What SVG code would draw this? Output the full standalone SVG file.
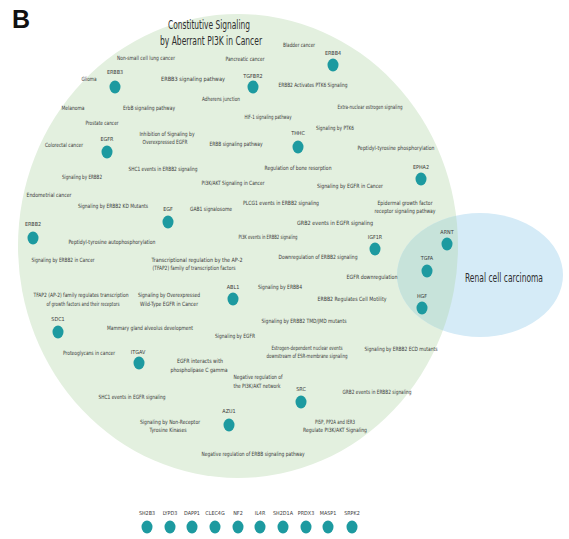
<svg xmlns="http://www.w3.org/2000/svg" width="569" height="539" viewBox="0 0 569 539">
<style>
.t{font-family:"Liberation Sans Narrow","DejaVu Sans Condensed","Liberation Sans",sans-serif;font-size:5.8px;fill:#3a3a3a;text-anchor:middle}
.g{font-family:"Liberation Sans Narrow","DejaVu Sans Condensed","Liberation Sans",sans-serif;font-size:5.4px;fill:#3a3a3a;text-anchor:middle}
.big{font-family:"Liberation Sans Narrow","DejaVu Sans Condensed","Liberation Sans",sans-serif;font-size:12px;fill:#2e2e2e;text-anchor:middle}
.dot{fill:#1d9aa0}
</style>
<defs>
<clipPath id="clipGreen"><ellipse cx="238" cy="246" rx="220" ry="232"/></clipPath>
</defs>
<rect width="569" height="539" fill="#ffffff"/>
<text x="12" y="28" font-family="Liberation Sans,Arial,sans-serif" font-weight="bold" font-size="25" fill="#111">B</text>
<g id="sets">
<ellipse id="set-pi3k" cx="238" cy="246" rx="220" ry="232" fill="#e3f0df"/>
<ellipse id="set-rcc" cx="480" cy="275" rx="83" ry="62" fill="#d5ebf7"/>
<ellipse cx="480" cy="275" rx="83" ry="62" fill="#c7e3da" clip-path="url(#clipGreen)"/>
</g>
<g id="titles">
<text class="big" x="209" y="29" textLength="82" lengthAdjust="spacingAndGlyphs">Constitutive Signaling</text>
<text class="big" x="211" y="45" textLength="102" lengthAdjust="spacingAndGlyphs">by Aberrant PI3K in Cancer</text>
<text class="big" x="504" y="282" textLength="78" lengthAdjust="spacingAndGlyphs">Renal cell carcinoma</text>
</g>
<g id="connectors"/>
<g id="terms">
<text class="t" x="146" y="60" textLength="58" lengthAdjust="spacingAndGlyphs">Non-small cell lung cancer</text>
<text class="t" x="89" y="81" textLength="15" lengthAdjust="spacingAndGlyphs">Glioma</text>
<text class="t" x="193" y="81" textLength="64" lengthAdjust="spacingAndGlyphs">ERBB3 signaling pathway</text>
<text class="t" x="73" y="110" textLength="23" lengthAdjust="spacingAndGlyphs">Melanoma</text>
<text class="t" x="149" y="110" textLength="52" lengthAdjust="spacingAndGlyphs">ErbB signaling pathway</text>
<text class="t" x="102" y="125" textLength="33" lengthAdjust="spacingAndGlyphs">Prostate cancer</text>
<text class="t" x="299" y="47" textLength="32" lengthAdjust="spacingAndGlyphs">Bladder cancer</text>
<text class="t" x="245" y="61" textLength="39" lengthAdjust="spacingAndGlyphs">Pancreatic cancer</text>
<text class="t" x="313" y="87" textLength="69" lengthAdjust="spacingAndGlyphs">ERBB2 Activates PTK6 Signaling</text>
<text class="t" x="221" y="101" textLength="38" lengthAdjust="spacingAndGlyphs">Adherens junction</text>
<text class="t" x="370" y="109" textLength="65" lengthAdjust="spacingAndGlyphs">Extra-nuclear estrogen signaling</text>
<text class="t" x="268" y="119" textLength="47" lengthAdjust="spacingAndGlyphs">HIF-1 signaling pathway</text>
<text class="t" x="335" y="130" textLength="38" lengthAdjust="spacingAndGlyphs">Signaling by PTK6</text>
<text class="t" x="64" y="147" textLength="38" lengthAdjust="spacingAndGlyphs">Colorectal cancer</text>
<text class="t" x="167" y="136" textLength="55" lengthAdjust="spacingAndGlyphs">Inhibition of Signaling by</text>
<text class="t" x="165" y="144" textLength="45" lengthAdjust="spacingAndGlyphs">Overexpressed EGFR</text>
<text class="t" x="163" y="171" textLength="69" lengthAdjust="spacingAndGlyphs">SHC1 events in ERBB2 signaling</text>
<text class="t" x="82" y="179" textLength="40" lengthAdjust="spacingAndGlyphs">Signaling by ERBB2</text>
<text class="t" x="49" y="197" textLength="45" lengthAdjust="spacingAndGlyphs">Endometrial cancer</text>
<text class="t" x="113" y="208" textLength="70" lengthAdjust="spacingAndGlyphs">Signaling by ERBB2 KD Mutants</text>
<text class="t" x="211" y="211" textLength="42" lengthAdjust="spacingAndGlyphs">GAB1 signalosome</text>
<text class="t" x="112" y="244" textLength="87" lengthAdjust="spacingAndGlyphs">Peptidyl-tyrosine autophosphorylation</text>
<text class="t" x="236" y="146" textLength="53" lengthAdjust="spacingAndGlyphs">ERBB signaling pathway</text>
<text class="t" x="396" y="150" textLength="77" lengthAdjust="spacingAndGlyphs">Peptidyl-tyrosine phosphorylation</text>
<text class="t" x="298" y="170" textLength="67" lengthAdjust="spacingAndGlyphs">Regulation of bone resorption</text>
<text class="t" x="233" y="185" textLength="63" lengthAdjust="spacingAndGlyphs">PI3K/AKT Signaling in Cancer</text>
<text class="t" x="350" y="188" textLength="66" lengthAdjust="spacingAndGlyphs">Signaling by EGFR in Cancer</text>
<text class="t" x="281" y="205" textLength="76" lengthAdjust="spacingAndGlyphs">PLCG1 events in ERBB2 signaling</text>
<text class="t" x="335" y="225" textLength="76" lengthAdjust="spacingAndGlyphs">GRB2 events in EGFR signaling</text>
<text class="t" x="268" y="239" textLength="59" lengthAdjust="spacingAndGlyphs">PI3K events in ERBB2 signaling</text>
<text class="t" x="405" y="205" textLength="55" lengthAdjust="spacingAndGlyphs">Epidermal growth factor</text>
<text class="t" x="405" y="213" textLength="61" lengthAdjust="spacingAndGlyphs">receptor signaling pathway</text>
<text class="t" x="63" y="262" textLength="63" lengthAdjust="spacingAndGlyphs">Signaling by ERBB2 in Cancer</text>
<text class="t" x="197" y="262" textLength="91" lengthAdjust="spacingAndGlyphs">Transcriptional regulation by the AP-2</text>
<text class="t" x="194" y="270" textLength="83" lengthAdjust="spacingAndGlyphs">(TFAP2) family of transcription factors</text>
<text class="t" x="81" y="297" textLength="95" lengthAdjust="spacingAndGlyphs">TFAP2 (AP-2) family regulates transcription</text>
<text class="t" x="83" y="306" textLength="73" lengthAdjust="spacingAndGlyphs">of growth factors and their receptors</text>
<text class="t" x="169" y="297" textLength="62" lengthAdjust="spacingAndGlyphs">Signaling by Overexpressed</text>
<text class="t" x="169" y="306" textLength="58" lengthAdjust="spacingAndGlyphs">Wild-Type EGFR in Cancer</text>
<text class="t" x="150" y="330" textLength="86" lengthAdjust="spacingAndGlyphs">Mammary gland alveolus development</text>
<text class="t" x="89" y="355" textLength="52" lengthAdjust="spacingAndGlyphs">Proteoglycans in cancer</text>
<text class="t" x="318" y="259" textLength="79" lengthAdjust="spacingAndGlyphs">Downregulation of ERBB2 signaling</text>
<text class="t" x="372" y="279" textLength="51" lengthAdjust="spacingAndGlyphs">EGFR downregulation</text>
<text class="t" x="280" y="289" textLength="44" lengthAdjust="spacingAndGlyphs">Signaling by ERBB4</text>
<text class="t" x="352" y="301" textLength="69" lengthAdjust="spacingAndGlyphs">ERBB2 Regulates Cell Motility</text>
<text class="t" x="304" y="323" textLength="85" lengthAdjust="spacingAndGlyphs">Signaling by ERBB2 TMD/JMD mutants</text>
<text class="t" x="235" y="338" textLength="40" lengthAdjust="spacingAndGlyphs">Signaling by EGFR</text>
<text class="t" x="307" y="350" textLength="71" lengthAdjust="spacingAndGlyphs">Estrogen-dependent nuclear events</text>
<text class="t" x="307" y="358" textLength="81" lengthAdjust="spacingAndGlyphs">downstream of ESR-membrane signaling</text>
<text class="t" x="401" y="351" textLength="73" lengthAdjust="spacingAndGlyphs">Signaling by ERBB2 ECD mutants</text>
<text class="t" x="200" y="363" textLength="46" lengthAdjust="spacingAndGlyphs">EGFR interacts with</text>
<text class="t" x="199" y="372" textLength="57" lengthAdjust="spacingAndGlyphs">phospholipase C gamma</text>
<text class="t" x="132" y="399" textLength="67" lengthAdjust="spacingAndGlyphs">SHC1 events in EGFR signaling</text>
<text class="t" x="170" y="424" textLength="60" lengthAdjust="spacingAndGlyphs">Signaling by Non-Receptor</text>
<text class="t" x="168" y="432" textLength="37" lengthAdjust="spacingAndGlyphs">Tyrosine Kinases</text>
<text class="t" x="253" y="456" textLength="103" lengthAdjust="spacingAndGlyphs">Negative regulation of ERBB signaling pathway</text>
<text class="t" x="258" y="379" textLength="49" lengthAdjust="spacingAndGlyphs">Negative regulation of</text>
<text class="t" x="257" y="388" textLength="47" lengthAdjust="spacingAndGlyphs">the PI3K/AKT network</text>
<text class="t" x="377" y="394" textLength="69" lengthAdjust="spacingAndGlyphs">GRB2 events in ERBB2 signaling</text>
<text class="t" x="335" y="424" textLength="40" lengthAdjust="spacingAndGlyphs">PI5P, PP2A and IER3</text>
<text class="t" x="335" y="432" textLength="64" lengthAdjust="spacingAndGlyphs">Regulate PI3K/AKT Signaling</text>
</g>
<g id="genes">
<g id="ERBB3"><text class="g" x="115" y="74">ERBB3</text><ellipse class="dot" cx="115" cy="87" rx="5.5" ry="6.5"/></g>
<g id="ERBB4"><text class="g" x="333" y="55">ERBB4</text><ellipse class="dot" cx="333" cy="65" rx="5.5" ry="6.5"/></g>
<g id="TGFBR2"><text class="g" x="253" y="78">TGFBR2</text><ellipse class="dot" cx="253" cy="87" rx="5.5" ry="6.5"/></g>
<g id="EGFR"><text class="g" x="107" y="141">EGFR</text><ellipse class="dot" cx="107" cy="152" rx="5.5" ry="6.5"/></g>
<g id="EGF"><text class="g" x="168" y="211">EGF</text><ellipse class="dot" cx="168" cy="222" rx="5.5" ry="6.5"/></g>
<g id="ERBB2"><text class="g" x="33" y="226">ERBB2</text><ellipse class="dot" cx="33" cy="238" rx="5.5" ry="6.5"/></g>
<g id="THHC"><text class="g" x="298" y="135">THHC</text><ellipse class="dot" cx="298" cy="147" rx="5.5" ry="6.5"/></g>
<g id="IGF1R"><text class="g" x="375" y="239">IGF1R</text><ellipse class="dot" cx="375" cy="249" rx="5.5" ry="6.5"/></g>
<g id="EPHA2"><text class="g" x="421" y="169">EPHA2</text><ellipse class="dot" cx="421" cy="179" rx="5.5" ry="6.5"/></g>
<g id="ARNT"><text class="g" x="447" y="234">ARNT</text><ellipse class="dot" cx="447" cy="244" rx="5.5" ry="6.5"/></g>
<g id="TGFA"><text class="g" x="427" y="260">TGFA</text><ellipse class="dot" cx="427" cy="271" rx="5.5" ry="6.5"/></g>
<g id="HGF"><text class="g" x="422" y="298">HGF</text><ellipse class="dot" cx="422" cy="308" rx="5.5" ry="6.5"/></g>
<g id="SDC1"><text class="g" x="58" y="321">SDC1</text><ellipse class="dot" cx="58" cy="332" rx="5.5" ry="6.5"/></g>
<g id="ITGAV"><text class="g" x="138" y="354">ITGAV</text><ellipse class="dot" cx="139" cy="363" rx="5.5" ry="6.5"/></g>
<g id="ABL1"><text class="g" x="233" y="289">ABL1</text><ellipse class="dot" cx="233" cy="299" rx="5.5" ry="6.5"/></g>
<g id="AZU1"><text class="g" x="229" y="413">AZU1</text><ellipse class="dot" cx="229" cy="425" rx="5.5" ry="6.5"/></g>
<g id="SRC"><text class="g" x="301" y="391">SRC</text><ellipse class="dot" cx="301" cy="402" rx="5.5" ry="6.5"/></g>
</g>
<g id="unassigned">
<g id="SH2B3"><text class="g" x="147" y="515">SH2B3</text><ellipse class="dot" cx="147" cy="527" rx="5.5" ry="6.5"/></g>
<g id="LYPD3"><text class="g" x="170" y="515">LYPD3</text><ellipse class="dot" cx="170" cy="527" rx="5.5" ry="6.5"/></g>
<g id="DAPP1"><text class="g" x="192" y="515">DAPP1</text><ellipse class="dot" cx="192" cy="527" rx="5.5" ry="6.5"/></g>
<g id="CLEC4G"><text class="g" x="215" y="515">CLEC4G</text><ellipse class="dot" cx="215" cy="527" rx="5.5" ry="6.5"/></g>
<g id="NF2"><text class="g" x="238" y="515">NF2</text><ellipse class="dot" cx="238" cy="527" rx="5.5" ry="6.5"/></g>
<g id="IL4R"><text class="g" x="260" y="515">IL4R</text><ellipse class="dot" cx="260" cy="527" rx="5.5" ry="6.5"/></g>
<g id="SH2D1A"><text class="g" x="283" y="515">SH2D1A</text><ellipse class="dot" cx="283" cy="527" rx="5.5" ry="6.5"/></g>
<g id="PRDX3"><text class="g" x="306" y="515">PRDX3</text><ellipse class="dot" cx="306" cy="527" rx="5.5" ry="6.5"/></g>
<g id="MASP1"><text class="g" x="328" y="515">MASP1</text><ellipse class="dot" cx="328" cy="527" rx="5.5" ry="6.5"/></g>
<g id="SRPK2"><text class="g" x="352" y="515">SRPK2</text><ellipse class="dot" cx="352" cy="527" rx="5.5" ry="6.5"/></g>
</g>
</svg>
